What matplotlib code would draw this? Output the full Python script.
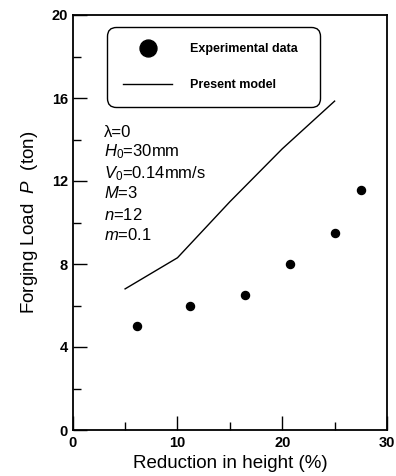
import matplotlib
matplotlib.use("Agg")
import matplotlib.pyplot as plt
from matplotlib.ticker import MultipleLocator

plt.rcParams['font.family'] = ['Liberation Sans', 'DejaVu Sans']
plt.rcParams['mathtext.fontset'] = 'custom'
plt.rcParams['mathtext.rm'] = 'Liberation Sans'
plt.rcParams['mathtext.it'] = 'Liberation Sans:italic'

# Data
exp_x = [6.1, 11.2, 16.4, 20.7, 25.0, 27.5]
exp_y = [5.0, 6.0, 6.5, 8.0, 9.5, 11.55]
model_x = [5.0, 10.0, 15.0, 20.0, 25.0]
model_y = [6.8, 8.3, 11.0, 13.55, 15.85]
params = ['λ=0', r'$\mathit{H}_{0}$=30mm', r'$\mathit{V}_{0}$=0.14mm/s',
          r'$\mathit{M}$=3', r'$\mathit{n}$=12', r'$\mathit{m}$=0.1']
xticks = [0, 10, 20, 30]
yticks = [0, 4, 8, 12, 16, 20]

W, H = 396, 476
fig = plt.figure(figsize=(W/100, H/100), dpi=100)
L, R, T, B = 72.7, 387, 15, 430
ax = fig.add_axes([L/W, 1 - B/H, (R-L)/W, (B-T)/H])

ax.plot(exp_x, exp_y, 'o', color='black', ms=5.8, label='Experimental data')
ax.plot(model_x, model_y, '-', color='black', lw=1.0, label='Present model')

ax.set_xlim(0, 30)
ax.set_ylim(0, 20)
ax.set_xticks(xticks)
ax.set_yticks(yticks)
ax.xaxis.set_minor_locator(MultipleLocator(5))
ax.yaxis.set_minor_locator(MultipleLocator(2))
ax.tick_params(which='both', direction='in', top=False, right=False, width=1.0)
ax.tick_params(which='major', length=10, labelsize=10.5)
ax.tick_params(axis='y', which='major', pad=3.5)
ax.tick_params(axis='x', which='major', pad=4)
ax.tick_params(which='minor', length=5.8)
for lab in ax.get_xticklabels() + ax.get_yticklabels():
    lab.set_fontweight('bold')
for s in ax.spines.values():
    s.set_linewidth(1.3)

ax.set_xlabel('Reduction in height (%)', fontsize=13.5, labelpad=4)
ax.set_ylabel(r'Forging Load  $\mathit{P}$  (ton)', fontsize=13.5, labelpad=8)

# parameter annotations
ys_px = [132.5, 152, 174, 193.5, 215, 235.5]
for txt, ypx in zip(params, ys_px):
    ax.text((104 - L)/(R - L), (B - ypx)/(B - T), txt, transform=ax.transAxes,
            fontsize=12, va='center', ha='left')

x0 = (107 - L)/(R - L)
x1 = (320 - L)/(R - L)
ytop = (B - 27)/(B - T)
leg = ax.legend(loc='upper left', bbox_to_anchor=(x0, ytop, x1 - x0, 0.0001),
                mode='expand', borderaxespad=0, fancybox=True, framealpha=1,
                edgecolor='black', markerscale=2.1, handlelength=3.9,
                handletextpad=1.45, borderpad=1.3, labelspacing=1.9,
                prop={'size': 9, 'weight': 'bold'})
leg.get_frame().set_linewidth(1.0)
leg.get_frame().set_boxstyle('round,pad=0,rounding_size=0.7')

fig.savefig('out.png', dpi=100)
